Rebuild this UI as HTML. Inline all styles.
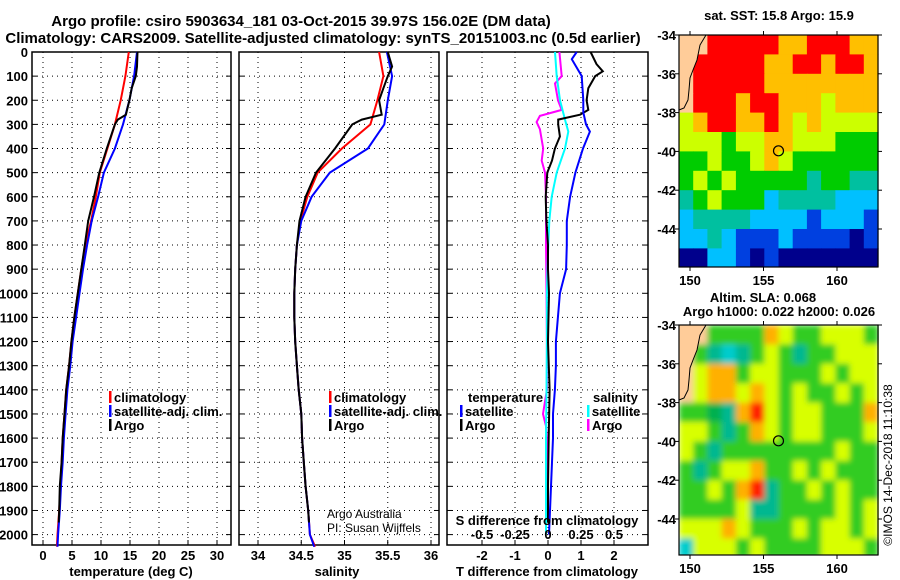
<!DOCTYPE html>
<html><head><meta charset="utf-8">
<style>
body{margin:0;background:#fff;}
svg{display:block;font-family:"Liberation Sans",sans-serif;font-weight:bold;}
</style></head>
<body>
<svg id="c" width="900" height="580" viewBox="0 0 900 580" xmlns="http://www.w3.org/2000/svg">
<text x="301" y="26" font-size="15" text-anchor="middle">Argo profile: csiro 5903634_181 03-Oct-2015 39.97S 156.02E (DM data)</text>
<text x="323" y="43" font-size="15" text-anchor="middle">Climatology: CARS2009. Satellite-adjusted climatology: synTS_20151003.nc (0.5d earlier)</text>
<g id="plots"></g>
<g id="maps"></g>
</svg>
<script>
// ---------- data ----------
const depthTicks=[0,100,200,300,400,500,600,700,800,900,1000,1100,1200,1300,1400,1500,1600,1700,1800,1900,2000];
const tTicks=[0,5,10,15,20,25,30];
const sTicks=[34,34.5,35,35.5,36];
const sTickLabels=["34","34.5","35","35.5","36"];
const dTicks=[-2,-1,0,1,2];
const dsTicks=[-0.5,-0.25,0,0.25,0.5];
const dsTickLabels=["-0.5","-0.25","0","0.25","0.5"];

const profDepth=[0,100,200,300,400,500,600,700,800,900,1000,1100,1200,1300,1400,1500,1600,1700,1800,1900,2000,2050];
const tClim=[14.8,14.2,13.4,12.4,11.1,9.8,9.1,8.3,7.3,6.6,6.0,5.4,4.9,4.5,4.0,3.7,3.4,3.2,3.0,2.8,2.5,2.4];
const tSat=[16.2,15.7,14.9,13.8,12.4,10.5,9.5,8.4,7.6,6.9,6.3,5.7,5.1,4.7,4.2,3.9,3.6,3.4,3.1,2.9,2.6,2.5];
const argoDepth=[0,60,100,150,200,260,280,300,400,500,600,700,800,900,1000,1100,1200,1300,1400,1500,1600,1700,1800,1900,1950];
const tArgo=[16.3,16.2,16.0,15.3,14.9,14.3,12.9,12.4,11.0,9.7,8.8,7.8,7.2,6.6,6.0,5.4,4.9,4.5,4.0,3.7,3.4,3.2,2.9,2.8,2.7];
const sClim=[35.40,35.45,35.38,35.30,34.97,34.69,34.57,34.49,34.45,34.43,34.42,34.42,34.43,34.45,34.47,34.50,34.51,34.53,34.55,34.58,34.60,34.66];
const sSat=[35.49,35.55,35.50,35.46,35.27,34.83,34.62,34.50,34.45,34.43,34.42,34.42,34.43,34.45,34.47,34.50,34.51,34.53,34.55,34.58,34.60,34.65];
const sArgo=[35.50,35.55,35.50,35.45,35.40,35.43,35.20,35.09,34.89,34.67,34.55,34.48,34.45,34.43,34.42,34.42,34.43,34.45,34.47,34.50,34.51,34.53,34.55,34.58,34.59];

const dtSatDepth=[0,30,100,200,250,300,330,400,500,600,700,800,900,1000,1100,1200,1300,1400,1500,1600,1700,1800,1900,2000];
const dtSat=[0.87,0.72,1.02,1.07,1.07,1.15,1.27,1.06,0.83,0.67,0.57,0.57,0.55,0.36,0.30,0.24,0.24,0.21,0.15,0.15,0.12,0.09,0.06,0.03];
const dtArgoDepth=[0,50,80,100,150,200,240,260,280,300,350,400,450,500,600,700,800,900,1000,1200,1400,1600,1800,1950];
const dtArgo=[1.29,1.47,1.66,1.43,1.22,1.17,1.22,0.97,0.31,0.31,0.36,0.21,0.12,-0.02,-0.07,-0.05,0.0,0.0,0.03,0.0,0.05,0.02,0.0,0.0];
const dsSatDepth=[0,100,200,280,330,400,500,600,700,800,900,1000,1200,1400,1600,1800,2000];
const dsSat=[0.053,0.066,0.091,0.129,0.154,0.129,0.066,0.028,0.010,0.002,-0.004,-0.008,-0.008,-0.011,-0.015,-0.015,-0.015];
const dsArgoDepth=[0,100,130,200,240,265,290,320,400,450,500,600,800,1000,1200,1400,1500,1550,1600,1850];
const dsArgo=[0.086,0.104,0.053,0.076,0.104,-0.061,-0.086,-0.061,-0.036,-0.048,-0.023,-0.015,-0.015,-0.011,-0.008,-0.008,-0.038,-0.015,-0.008,0];

const sstGrid=[
"LLRRRRROORRROO","LRRRRROORRORRO","LRRRRROOOOOOOO","LRRRORROOOYOOO",
"YORROOROYOYYYY","YYYGYYOOYYYGGG","GGYGGYOYGGGGGG","GYGYGGGGGTGGTT",
"TGYGGGCTTTTCCC","CTTTTCCCCBCCCB","CCTCBBBCBBBBNB","NNCCBNBNNNNNNN"];
const slaGrid=[
"LLGGGGOYGGYYYG","LGTCTGYGTGGYYY","LYOOGYYGGGYGYY","LYOOYOYGYGGYGY",
"GGDTORYGYYGGGO","YYGTGOYGYYGGGY","YGTGGGGGGGGYGG","GTGYYOGGYGYGGG",
"GGYGORTGGYGYGG","GGGGYTTGGGGYGY","YYYOYGGGYGYYGY","CYYYGYGGGGYYYG"];
const sstColors={L:"#ffcc99",R:"#ff0000",O:"#ffbf00",Y:"#ccff00",G:"#00cc00",T:"#00c0a0",C:"#00c0ff",B:"#0040e0",N:"#00008c"};
const slaColors={L:"#ffcc99",R:"#ff2200",O:"#ffb000",Y:"#d8ff00",G:"#33cc22",D:"#00b050",T:"#00b890",C:"#00cccc"};

// ---------- helpers ----------
const NS="http://www.w3.org/2000/svg";
const plots=document.getElementById('plots');
const maps=document.getElementById('maps');
function mk(tag,attrs,parent){const e=document.createElementNS(NS,tag);for(const k in attrs)e.setAttribute(k,attrs[k]);(parent||plots).appendChild(e);return e;}
const yTop=52,yBot=545;
const yD=d=>yTop+d*0.2413;

function panel(x0,x1,xs,ticks,labels,showY,name){
  const g=mk('g',{});
  
  
  ticks.forEach((t,i)=>{const x=xs(t);
    const l=mk('line',{x1:x,x2:x,y1:yTop,y2:yBot,stroke:'#000','stroke-width':1,'stroke-dasharray':'1,4'},g);
    
    mk('line',{x1:x,x2:x,y1:yBot,y2:yBot-5,stroke:'#000'},g);
    if(labels){const tx=mk('text',{x:x,y:yBot+15,'font-size':13,'text-anchor':'middle'},g);tx.textContent=labels[i];
      }
  });
  depthTicks.forEach(d=>{const y=yD(d);
    const l=mk('line',{x1:x0,x2:x1,y1:y,y2:y,stroke:'#000','stroke-width':1,'stroke-dasharray':'1,4'},g);
    
    mk('line',{x1:x0,x2:x0+5,y1:y,y2:y,stroke:'#000'},g);
    mk('line',{x1:x1,x2:x1-5,y1:y,y2:y,stroke:'#000'},g);
    if(showY){const tx=mk('text',{x:x0-4,y:y+5,'font-size':13,'text-anchor':'end'},g);tx.textContent=d;
      }
  });
  const r=mk('rect',{x:x0,y:yTop,width:x1-x0,height:yBot-yTop,fill:'none',stroke:'#000','stroke-width':1.5},g);
  
  return g;
}
function line(depths,vals,xs,color,name,g){
  const pts=depths.map((d,i)=>xs(vals[i]).toFixed(1)+','+yD(d).toFixed(1)).join(' ');
  const p=mk('polyline',{points:pts,fill:'none',stroke:color,'stroke-width':2},g);
  
  
}
function legend(x,y,color,label,g){
  if(color){const m=mk('rect',{x:x,y:y-11,width:2.5,height:12,fill:color},g);
    }
  const t=mk('text',{x:x+5,y:y,'font-size':13},g);t.textContent=label;
  
}
function txt(x,y,s,size,anchor,name,g,extra){
  const t=mk('text',Object.assign({x:x,y:y,'font-size':size,'text-anchor':anchor||'start'},extra||{}),g);t.textContent=s;
  return t;
}

// ---------- panel 1: temperature ----------
const xT=v=>43+v*5.8;
const g1=panel(32,231,xT,tTicks,tTicks.map(String),true,'temperature-panel');
line(profDepth,tClim,xT,'#ff0000','temperature-climatology-line',g1);
line(profDepth,tSat,xT,'#0000ff','temperature-satellite-line',g1);
line(argoDepth,tArgo,xT,'#000000','temperature-argo-line',g1);
legend(109,402,'#ff0000','climatology',g1);
legend(109,416,'#0000ff','satellite-adj. clim.',g1);
legend(109,430,'#000000','Argo',g1);
txt(131,576,'temperature (deg C)',13,'middle','x-axis-title-temperature',g1);

// ---------- panel 2: salinity ----------
const xS=v=>258+(v-34)*86.5;
const g2=panel(239,439,xS,sTicks,sTickLabels,false,'salinity-panel');
line(profDepth,sClim,xS,'#ff0000','salinity-climatology-line',g2);
line(profDepth,sSat,xS,'#0000ff','salinity-satellite-line',g2);
line(argoDepth,sArgo,xS,'#000000','salinity-argo-line',g2);
legend(329,402,'#ff0000','climatology',g2);
legend(329,416,'#0000ff','satellite-adj. clim.',g2);
legend(329,430,'#000000','Argo',g2);
txt(327,518,'Argo Australia',12,'start','credit-argo-australia',g2,{'font-weight':'normal'});
txt(327,532,'PI: Susan Wijffels',12,'start','credit-pi',g2,{'font-weight':'normal'});
txt(337,576,'salinity',13,'middle','x-axis-title-salinity',g2);

// ---------- panel 3: differences ----------
const xDT=v=>548+v*33;
const xDS=v=>548+v*132;
const g3=panel(447,648,xDT,dTicks,dTicks.map(String),false,'difference-panel');
line(dsArgoDepth,dsArgo,xDS,'#ff00ff','salinity-argo-diff-line',g3);
line(dsSatDepth,dsSat,xDS,'#00ffff','salinity-satellite-diff-line',g3);
line(dtArgoDepth,dtArgo,xDT,'#000000','temperature-argo-diff-line',g3);
line(dtSatDepth,dtSat,xDT,'#0000ff','temperature-satellite-diff-line',g3);
txt(468,402,'temperature',13,'start','legend-title-temperature',g3);
txt(593,402,'salinity',13,'start','legend-title-salinity',g3);
legend(460,416,'#0000ff','satellite',g3);
legend(460,430,'#000000','Argo',g3);
legend(587,416,'#00ffff','satellite',g3);
legend(587,430,'#ff00ff','Argo',g3);
txt(547,525,'S difference from climatology',13,'middle','s-diff-axis-title',g3);
dsTicks.forEach((v,i)=>txt(xDS(v),539,dsTickLabels[i],13,'middle','s-diff-tick-label',g3));
txt(547,576,'T difference from climatology',13,'middle','t-diff-axis-title',g3);

// ---------- maps ----------
const mx0=679,mx1=878;
const lonX=lon=>690+(lon-150)*14.7;
function drawMap(top,grid,colors,name,blur){
  const g=mk('g',{},maps);
  
  
  const latY=lat=>top+(-34-lat)*19.4;
  const cg=mk('g',blur?{filter:'url(#blur)'}:{},g);
  const cw=(mx1-mx0)/14, ch=(latY(-46)-top)/12;
  grid.forEach((row,r)=>{[...row].forEach((c,k)=>{
    const rc=mk('rect',{x:(mx0+k*cw).toFixed(1),y:(top+r*ch).toFixed(1),width:(cw+0.6).toFixed(1),height:(ch+0.6).toFixed(1),fill:colors[c]},cg);
    
    
  });});
  const bot=top+(yMapH);
  const land=[[679,0],[706,0],[700,10],[697,25],[693,35],[690,43],[689,55],[688,65],[684,73],[679,75]];
  const lp=mk('polygon',{points:land.map(p=>p[0]+','+(p[1]+top)).join(' '),fill:'#ffcc99',stroke:'#000','stroke-width':1},g);
  
  const cover=mk('rect',{x:mx0-2,y:bot,width:mx1-mx0+4,height:20,fill:'#fff'},g);
  
  const fr=mk('rect',{x:mx0,y:top,width:mx1-mx0,height:bot-top,fill:'none',stroke:'#000','stroke-width':1.2},g);
  
  [-34,-36,-38,-40,-42,-44].forEach(lat=>{const y=latY(lat);
    mk('line',{x1:mx0,x2:mx0-4,y1:y,y2:y,stroke:'#000'},g);
    mk('line',{x1:mx1,x2:mx1+4,y1:y,y2:y,stroke:'#000'},g);
    txt(mx0-3,y+5,String(lat),13,'end','map-lat-label',g);});
  [150,155,160].forEach(lon=>{const x=lonX(lon);
    mk('line',{x1:x,x2:x,y1:bot,y2:bot+4,stroke:'#000'},g);
    mk('line',{x1:x,x2:x,y1:top,y2:top-4,stroke:'#000'},g);
    txt(x,bot+18,String(lon),13,'middle','map-lon-label',g);});
  const m=mk('circle',{cx:lonX(156.02),cy:latY(-39.97),r:5,fill:'none',stroke:'#000','stroke-width':1.2},g);
  
}
const defs=mk('defs',{},maps);
const f=mk('filter',{id:'blur',x:'0',y:'0',width:'1',height:'1'},defs);
mk('feGaussianBlur',{stdDeviation:'3',edgeMode:'duplicate'},f);
let yMapH=232;
drawMap(35,sstGrid,sstColors,'sst-map',false);
yMapH=230;
drawMap(325,slaGrid,slaColors,'sla-map',true);
txt(779,20,'sat. SST: 15.8 Argo: 15.9',13,'middle','sst-map-title',maps);
txt(763,302,'Altim. SLA: 0.068',13,'middle','sla-map-title',maps);
txt(779,316,'Argo h1000: 0.022 h2000: 0.026',13,'middle','sla-map-subtitle',maps);
txt(892,465,'©IMOS 14-Dec-2018 11:10:38',12,'middle','imos-credit',maps,{transform:'rotate(-90 892 465)','font-weight':'normal'});
</script>
</body></html>
